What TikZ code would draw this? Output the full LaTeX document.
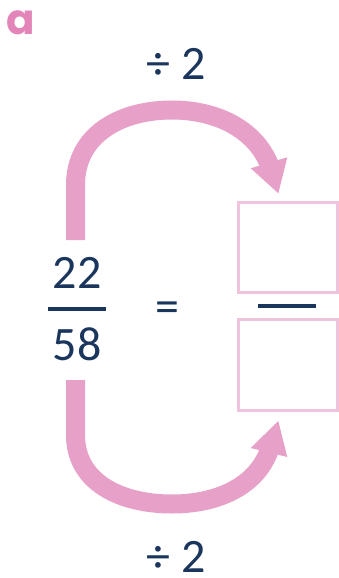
\documentclass[tikz,border=0pt]{standalone}
\usepackage{fontspec}
\setmainfont{Carlito}
\newfontfamily\labelfont{Poppins}
\definecolor{navy}{HTML}{1B365D}
\definecolor{arrowpink}{HTML}{E7A1C8}
\definecolor{boxpink}{HTML}{F0C3DD}
\definecolor{labelpink}{HTML}{E385B8}
\tikzset{
  num/.style={text=navy, font=\fontsize{48}{48}\selectfont, inner sep=0pt, anchor=base, text depth=0pt},
  bigarrow/.style={draw=arrowpink, line width=19pt, line cap=butt},
  arrowtip/.style={fill=arrowpink, draw=none},
  answerbox/.style={draw=boxpink, line width=3pt},
  fracbar/.style={draw=navy, line width=3.6pt}
}
\begin{document}
\begin{tikzpicture}[x=1pt,y=-1pt]
\useasboundingbox (0,0) rectangle (339,578);
% label
\node[text=labelpink, font=\labelfont\bfseries\fontsize{42}{42}\selectfont, inner sep=0pt, anchor=base west] (lbl) at (6,35) {a};
% left fraction
\node[num] (n1) at (77,288) {22};
\node[num] (n2) at (77,360) {58};
\coordinate (b1) at (48,309);
\coordinate (b2) at (106,309);
\draw[fracbar] (b1) -- (b2);
\node[num] (eq) at (167.5,322) {=};
% answer boxes
\draw[answerbox] (238.5,202.5) rectangle (337.5,292.5);
\draw[answerbox] (238.5,319.5) rectangle (337.5,410.5);
\coordinate (r1) at (258,306);
\coordinate (r2) at (316,306);
\draw[fracbar] (r1) -- (r2);
% top arrow
\coordinate (ts) at (75.5,240);
\coordinate (te) at (269,164);
\draw[bigarrow] (ts) -- (75.5,185) .. controls (75.5,135) and (120,110) .. (172,110)
  .. controls (215,110) and (254,128) .. (te);
\fill[arrowtip] (278.3,193.3) -- (287.3,157.3) -- (250.7,168.3) -- cycle;
\node[num] (topop) at (176.5,80) {÷ 2};
% bottom arrow
\coordinate (bs) at (75.5,380);
\coordinate (be) at (269,451);
\draw[bigarrow] (bs) -- (75.5,435) .. controls (75.5,482) and (120,504) .. (172,504)
  .. controls (215,504) and (255,488) .. (be);
\fill[arrowtip] (278.3,421) -- (287.3,457) -- (250.7,448) -- cycle;
\node[num] (botop) at (176.5,572) {÷ 2};
\end{tikzpicture}
\end{document}
